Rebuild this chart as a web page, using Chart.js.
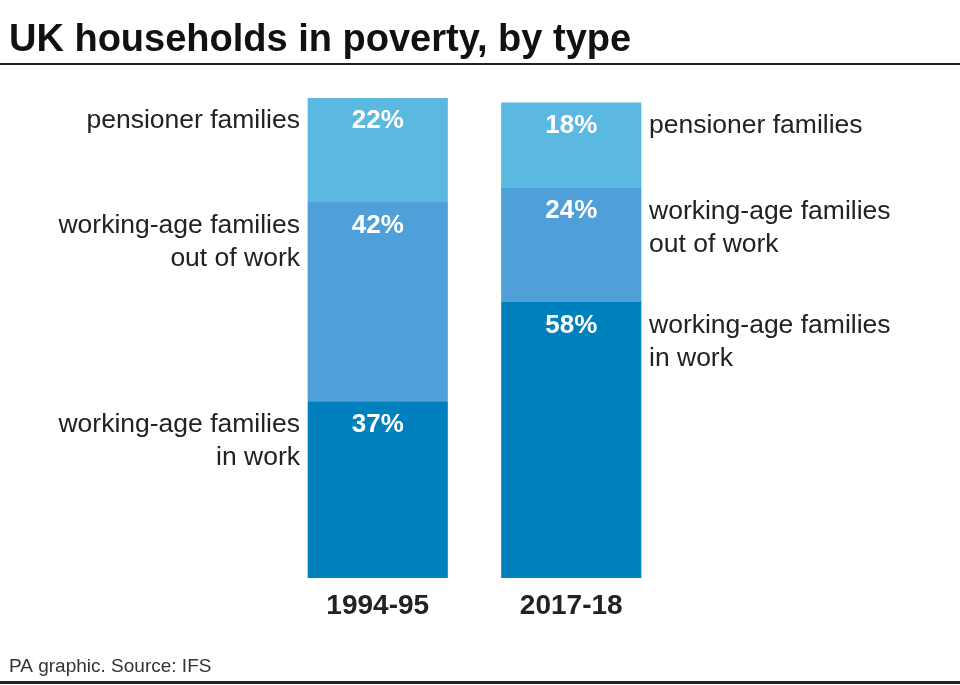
<!DOCTYPE html>
<html>
<head>
<meta charset="utf-8">
<script src="https://cdn.jsdelivr.net/npm/chart.js@4/dist/chart.umd.min.js"></script>
<style>
  html, body { margin: 0; padding: 0; background: #fff; }
  #chart { display: block; }
</style>
</head>
<body>
<canvas id="chart" width="960" height="685"></canvas>
<script>
// data
const years = ['1994-95', '2017-18'];
const inWork = [37, 58];
const outOfWork = [42, 24];
const pensioners = [22, 18];
const seriesNames = ['working-age families\nin work', 'working-age families\nout of work', 'pensioner families'];
const colours = ['#0080bd', '#4f9fd8', '#5ab8e1'];

const FONT = '"Liberation Sans", Arial, sans-serif';

// titles, side labels, percentages, footer
const decor = {
  id: 'decor',
  afterDatasetsDraw(chart) {
    const ctx = chart.ctx;
    const x = chart.scales.x;
    ctx.save();

    // title + rules
    ctx.fillStyle = '#111';
    ctx.font = 'bold 38px ' + FONT;
    ctx.textAlign = 'left';
    ctx.textBaseline = 'alphabetic';
    ctx.fillText('UK households in poverty, by type', 9, 51);
    ctx.fillStyle = '#222';
    ctx.fillRect(0, 63, 960, 2);
    ctx.fillRect(0, 681, 960, 3);

    ctx.font = '19px "Liberation Sans Narrow", ' + FONT;
    ctx.fillStyle = '#333';
    ctx.fillText('PA graphic. Source: IFS', 9, 672);

    // segment labels
    chart.data.datasets.forEach((ds, di) => {
      const meta = chart.getDatasetMeta(di);
      meta.data.forEach((bar, i) => {
        const top = bar.y;
        ctx.textBaseline = 'middle';
        ctx.font = 'bold 26px ' + FONT;
        ctx.fillStyle = '#fff';
        ctx.textAlign = 'center';
        ctx.fillText(ds.data[i] + '%', bar.x, top + 23);

        ctx.font = '26.5px ' + FONT;
        ctx.fillStyle = '#222';
        const lines = seriesNames[di].split('\n');
        const left = i === 0;
        ctx.textAlign = left ? 'right' : 'left';
        const tx = left ? bar.x - bar.width / 2 - 8 : bar.x + bar.width / 2 + 8;
        lines.forEach((ln, k) => ctx.fillText(ln, tx, top + 23 + k * 33));
      });
    });

    // category labels
    ctx.font = 'bold 28px ' + FONT;
    ctx.fillStyle = '#222';
    ctx.textAlign = 'center';
    ctx.textBaseline = 'middle';
    years.forEach((yr, i) => ctx.fillText(yr, x.getPixelForValue(i), 606));

    ctx.restore();
  }
};

new Chart(document.getElementById('chart').getContext('2d'), {
  type: 'bar',
  data: {
    labels: years,
    datasets: [
      { label: 'in work', data: inWork, backgroundColor: colours[0] },
      { label: 'out of work', data: outOfWork, backgroundColor: colours[1] },
      { label: 'pensioners', data: pensioners, backgroundColor: colours[2] }
    ]
  },
  options: {
    responsive: false,
    animation: false,
    events: [],
    layout: { padding: { left: 281, right: 292, top: 98, bottom: 107 } },
    datasets: { bar: { barThickness: 139.5, borderWidth: 0 } },
    scales: {
      x: { stacked: true, display: false },
      y: { stacked: true, display: false, min: 0, max: 101 }
    },
    plugins: {
      legend: { display: false },
      tooltip: { enabled: false },
      title: { display: false }
    }
  },
  plugins: [decor]
});
</script>
</body>
</html>
